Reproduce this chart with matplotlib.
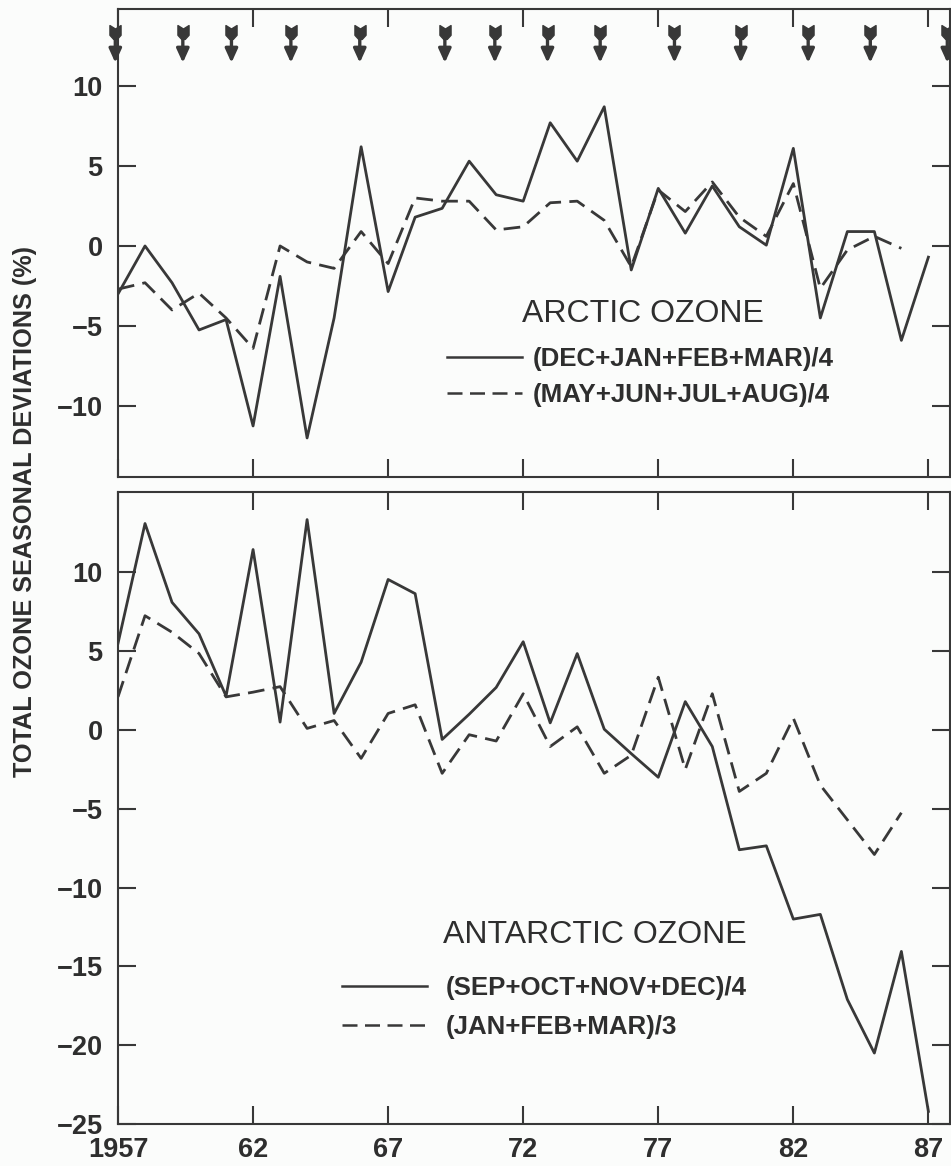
import matplotlib.pyplot as plt
from matplotlib.path import Path

plt.rcParams["font.family"] = ["Liberation Sans", "DejaVu Sans"]

INK = "#383838"
TEXT = "#2e2e2e"
PAPER = "#fbfcfb"

YEARS_LONG = list(range(1957, 1988))   # 1957..1987
YEARS_SHORT = list(range(1957, 1987))  # 1957..1986

# Arctic, (DEC+JAN+FEB+MAR)/4, %
ARCTIC_WINTER = [
    -3.0, 0.0, -2.3, -5.25, -4.6, -11.25, -1.9, -12.0, -4.5, 6.2,
    -2.85, 1.8, 2.35, 5.3, 3.2, 2.8, 7.7, 5.3, 8.7, -1.5,
    3.6, 0.8, 3.75, 1.2, 0.05, 6.1, -4.5, 0.9, 0.9, -5.9, -0.7,
]
# Arctic, (MAY+JUN+JUL+AUG)/4, %
ARCTIC_SUMMER = [
    -2.7, -2.3, -4.0, -2.95, -4.5, -6.4, 0.0, -1.0, -1.4, 0.9,
    -1.1, 3.0, 2.8, 2.8, 1.0, 1.2, 2.7, 2.8, 1.6, -1.3,
    3.5, 2.15, 4.0, 1.8, 0.6, 3.9, -2.65, -0.25, 0.6, -0.15,
]
# Antarctic, (SEP+OCT+NOV+DEC)/4, %
ANTARCTIC_SPRING = [
    5.5, 13.1, 8.1, 6.1, 2.15, 11.45, 0.5, 13.35, 1.05, 4.3,
    9.55, 8.65, -0.6, 1.0, 2.7, 5.6, 0.45, 4.85, 0.05, -1.5,
    -3.0, 1.8, -1.05, -7.6, -7.35, -12.0, -11.7, -17.1, -20.5, -14.05, -24.2,
]
# Antarctic, (JAN+FEB+MAR)/3, %
ANTARCTIC_SUMMER = [
    2.1, 7.25, 6.2, 4.85, 2.1, 2.4, 2.75, 0.1, 0.6, -1.8,
    1.05, 1.6, -2.75, -0.3, -0.7, 2.3, -1.05, 0.2, -2.75, -1.6,
    3.35, -2.5, 2.3, -3.9, -2.75, 0.75, -3.5, -5.7, -7.9, -5.25,
]

# event markers along the top of the arctic panel
ARROW_YEARS = [
    1956.9, 1959.4, 1961.2, 1963.4, 1965.95, 1969.1, 1970.95,
    1972.9, 1974.85, 1977.6, 1980.05, 1982.55, 1984.85, 1987.7,
]

XTICKS = [1957, 1962, 1967, 1972, 1977, 1982, 1987]
XTICK_LABELS = ["1957", "62", "67", "72", "77", "82", "87"]

DASHES = (0, (6.0, 3.0))
FLETCH = Path(
    [(-0.8, 1), (0, 0.5), (0.8, 1), (0.8, -0.4), (0.25, -1), (-0.25, -1), (-0.8, -0.4), (-0.8, 1)],
    [Path.MOVETO] + [Path.LINETO] * 6 + [Path.CLOSEPOLY],
)


def style_axis(axis, yticks):
    axis.set_facecolor(PAPER)
    axis.set_xlim(1957, 1987.8)
    axis.set_xticks(XTICKS)
    axis.set_xticklabels(XTICK_LABELS, fontweight="bold")
    axis.set_yticks(yticks)
    axis.set_yticklabels([f"\u2212{-v}" if v < 0 else str(v) for v in yticks],
                         fontweight="bold")
    axis.tick_params(
        direction="in", length=13, width=1.5, color=INK,
        top=True, right=True, labelsize=19.5, labelcolor=TEXT,
    )
    axis.tick_params(axis="y", pad=11)
    axis.tick_params(axis="x", pad=9)
    for spine in axis.spines.values():
        spine.set_color(INK)
        spine.set_linewidth(1.5)


def plot_ozone_deviations(save_path="out.png"):
    fig = plt.figure(figsize=(9.51, 11.66), dpi=100, facecolor=PAPER)
    top = fig.add_axes([0.12408, 0.59091, 0.87487, 0.40137])
    bottom = fig.add_axes([0.12408, 0.03602, 0.87487, 0.54202])

    # arctic panel
    top.plot(YEARS_LONG, ARCTIC_WINTER, color=INK, lw=2.0,
             label="(DEC+JAN+FEB+MAR)/4")
    top.plot(YEARS_SHORT, ARCTIC_SUMMER, color=INK, lw=2.0, linestyle=DASHES,
             label="(MAY+JUN+JUL+AUG)/4")
    style_axis(top, [-10, -5, 0, 5, 10])
    top.set_ylim(-14.44, 14.81)
    top.tick_params(labelbottom=False)

    for year in ARROW_YEARS:
        top.annotate(
            "", xy=(year, 11.45), xytext=(year, 13.2),
            arrowprops=dict(arrowstyle="-|>,head_length=0.55,head_width=0.25",
                            color=INK, lw=2.4, mutation_scale=15,
                            shrinkA=0, shrinkB=0),
            annotation_clip=False,
        )
    top.plot(ARROW_YEARS, [13.4] * len(ARROW_YEARS), linestyle="none",
             marker=FLETCH, markersize=10, color=INK, clip_on=False)

    top.text(0.4856, 0.3312, "ARCTIC OZONE", transform=top.transAxes,
             fontsize=23, color=TEXT, va="baseline", ha="left")
    legend = top.legend(
        loc="center left", bbox_to_anchor=(0.3954, 0.2137), frameon=False,
        prop={"size": 18.6, "weight": "bold"}, handlelength=2.9, handletextpad=0.42,
        labelspacing=0.48, borderpad=0, borderaxespad=0, labelcolor=TEXT,
    )
    for line in legend.get_lines():
        line.set_linewidth(1.8)

    # antarctic panel
    bottom.plot(YEARS_LONG, ANTARCTIC_SPRING, color=INK, lw=2.0,
                label="(SEP+OCT+NOV+DEC)/4")
    bottom.plot(YEARS_SHORT, ANTARCTIC_SUMMER, color=INK, lw=2.0, linestyle=DASHES,
                label="(JAN+FEB+MAR)/3")
    style_axis(bottom, [-25, -20, -15, -10, -5, 0, 5, 10])
    bottom.set_ylim(-25, 15.1)

    bottom.text(0.3906, 0.2864, "ANTARCTIC OZONE", transform=bottom.transAxes,
                fontsize=23, color=TEXT, va="baseline", ha="left")
    legend = bottom.legend(
        loc="center left", bbox_to_anchor=(0.269, 0.184), frameon=False,
        prop={"size": 18.6, "weight": "bold"}, handlelength=3.3, handletextpad=0.72,
        labelspacing=0.58, borderpad=0, borderaxespad=0, labelcolor=TEXT,
    )
    for line in legend.get_lines():
        line.set_linewidth(1.8)

    fig.text(0.026, 0.561, "TOTAL OZONE SEASONAL DEVIATIONS (%)", rotation=90,
             fontsize=18.2, fontweight="bold", color=TEXT, ha="center", va="center")

    fig.savefig(save_path, dpi=100, facecolor=PAPER)
    plt.close(fig)


plot_ozone_deviations("out.png")
